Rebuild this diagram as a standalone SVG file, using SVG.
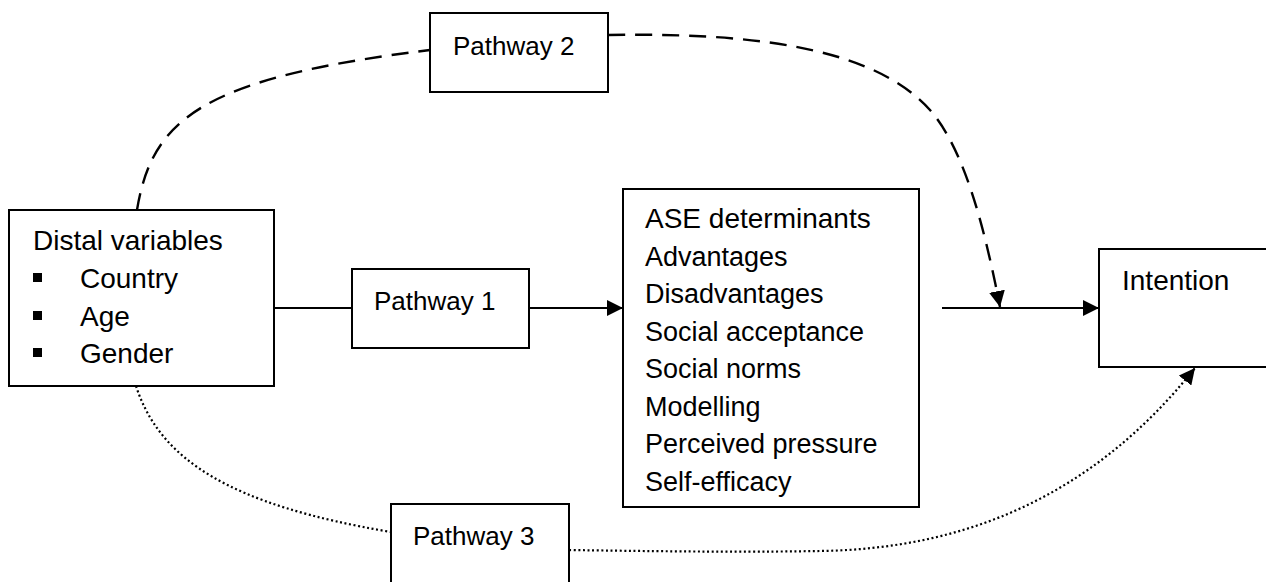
<svg xmlns="http://www.w3.org/2000/svg" width="1266" height="582" viewBox="0 0 1266 582">
<style>
.box{fill:#fff;stroke:#000;stroke-width:2}
.t{font-family:"Liberation Sans",Arial,sans-serif;font-size:27px;fill:#000}
.big{font-size:28px}
.pw{font-size:26px}
.ln{fill:none;stroke:#000;stroke-width:2}
.dash{stroke-dasharray:17 10;stroke-width:2.4}
.dot{stroke-dasharray:2 2.6;stroke-width:2.2}
</style>
<defs>
<marker id="ah" markerWidth="17" markerHeight="16" refX="16" refY="8" orient="auto" markerUnits="userSpaceOnUse">
<path d="M0,0 L16,8 L0,16 Z" fill="#000"/>
</marker>
</defs>
<rect width="1266" height="582" fill="#fff"/>
<g id="connectors">
<line class="ln" x1="274" y1="308" x2="352" y2="308"/>
<line class="ln" x1="529" y1="308" x2="623" y2="308" marker-end="url(#ah)"/>
<line class="ln" x1="942" y1="308" x2="1099" y2="308" marker-end="url(#ah)"/>
<path class="ln dash" d="M137,210 C152,120 200,78 430,50"/>
<path class="ln dash" d="M608,35 C780,32 880,55 930,110 C965,150 985,230 1000,307" marker-end="url(#ah)"/>
<path class="ln dot" d="M136,386 C160,460 230,505 391,532"/>
<path class="ln dot" d="M569,550 C700,552 760,552 820,551 C960,549 1090,500 1195,368" marker-end="url(#ah)"/>
</g>
<g id="distal">
<rect class="box" x="9" y="210" width="265" height="176"/>
<text class="t big" x="33" y="250">Distal variables</text>
<rect x="33" y="273" width="9" height="9"/>
<rect x="33" y="311" width="9" height="9"/>
<rect x="33" y="348" width="9" height="9"/>
<text class="t big" x="80" y="288">Country</text>
<text class="t big" x="80" y="326">Age</text>
<text class="t big" x="80" y="363">Gender</text>
</g>
<g id="pathway1">
<rect class="box" x="352" y="269" width="177" height="79"/>
<text class="t pw" x="374" y="310">Pathway 1</text>
</g>
<g id="pathway2">
<rect class="box" x="430" y="13" width="178" height="79"/>
<text class="t pw" x="453" y="55">Pathway 2</text>
</g>
<g id="pathway3">
<rect class="box" x="391" y="504" width="178" height="90"/>
<text class="t pw" x="413" y="545">Pathway 3</text>
</g>
<g id="ase">
<rect class="box" x="623" y="189" width="296" height="318"/>
<text class="t big" x="645" y="228">ASE determinants</text>
<text class="t" x="645" y="266">Advantages</text>
<text class="t" x="645" y="303">Disadvantages</text>
<text class="t" x="645" y="341">Social acceptance</text>
<text class="t" x="645" y="378">Social norms</text>
<text class="t" x="645" y="416">Modelling</text>
<text class="t" x="645" y="453">Perceived pressure</text>
<text class="t" x="645" y="491">Self-efficacy</text>
</g>
<g id="intention">
<rect class="box" x="1099" y="249" width="180" height="118"/>
<text class="t big" x="1122" y="290">Intention</text>
</g>
</svg>
